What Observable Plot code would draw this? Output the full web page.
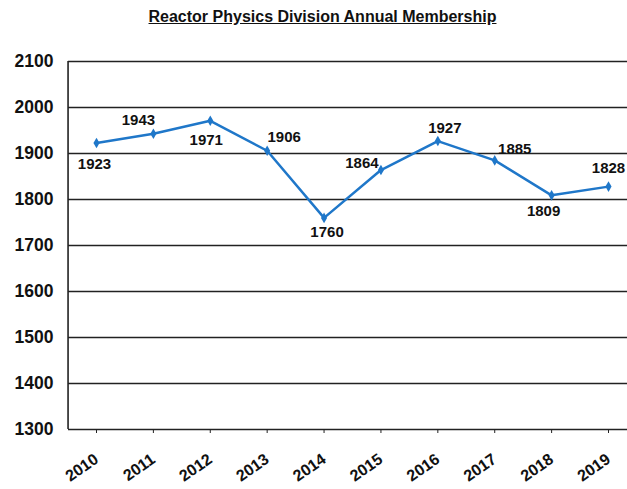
<!DOCTYPE html>
<html>
<head>
<meta charset="utf-8">
<script src="https://cdn.jsdelivr.net/npm/d3@7"></script>
<script src="https://cdn.jsdelivr.net/npm/@observablehq/plot@0.6"></script>
<style>
  html, body { margin: 0; padding: 0; background: #fff; }
  body { width: 627px; height: 489px; overflow: hidden; font-family: "Liberation Sans", Arial, sans-serif; }
  #title { height: 32px; line-height: 34px; text-align: center; font-weight: bold; font-size: 16px; text-decoration: underline; color: #111; padding-left: 18px; box-sizing: border-box; }
  svg { display: block; }
</style>
</head>
<body>
<div id="title">Reactor Physics Division Annual Membership</div>
<div id="chart"></div>
<script>
const years = [2010, 2011, 2012, 2013, 2014, 2015, 2016, 2017, 2018, 2019];
const members = [1923, 1943, 1971, 1906, 1760, 1864, 1927, 1885, 1809, 1828];
const yTicks = [1300, 1400, 1500, 1600, 1700, 1800, 1900, 2000, 2100];
const labelPlacement = ["below", "aboveLeft", "belowLeft", "aboveRight", "belowLow", "left", "aboveRight2", "right", "belowLeft2", "above"];

const offsets = {
  below: [-2, 21], belowLow: [3, 14], aboveLeft: [-15, -14], belowLeft: [-4, 19], aboveRight: [17, -14],
  left: [-19, -7], aboveRight2: [7, -13], right: [20, -11], belowLeft2: [-8, 16], above: [0, -18]
};

const data = years.map((y, i) => ({year: y, value: members[i], place: labelPlacement[i]}));

const labelMarks = data.map(d => Plot.text([d], {
  x: "year", y: "value", text: d => String(d.value),
  dx: offsets[d.place][0], dy: offsets[d.place][1],
  fontSize: 15, fontWeight: "bold", fill: "#111"
}));

const chart = Plot.plot({
  width: 627,
  height: 457,
  marginTop: 29,
  marginBottom: 60,
  marginLeft: 68,
  marginRight: 0,
  style: {fontFamily: "Liberation Sans, Arial, sans-serif", background: "#fff"},
  x: {type: "linear", domain: [2010, 2019], range: [96, 608]},
  y: {domain: [1300, 2100]},
  marks: [
    Plot.gridY(yTicks.slice(1), {stroke: "#222", strokeOpacity: 1, strokeWidth: 1.6}),
    Plot.ruleY([1300], {stroke: "#222", strokeWidth: 1.6}),
    Plot.ruleX([2009.5], {stroke: "#222", strokeWidth: 1.6}),
    Plot.axisY({ticks: yTicks, tickFormat: "d", tickSize: 0, tickPadding: 15, fontSize: 17.5, fontWeight: "bold", label: null, fill: "#111"}),
    Plot.axisX({ticks: years, tickFormat: "d", tickSize: 4, tickPadding: 24, tickRotate: -35, fontSize: 16, fontWeight: "bold", label: null, stroke: "#222", fill: "#111"}),
    Plot.line(data, {x: "year", y: "value", stroke: "#1f77c9", strokeWidth: 2.5}),
    Plot.dot(data, {x: "year", y: "value", symbol: "diamond", r: 3.2, fill: "#1f77c9", stroke: "none"}),
    ...labelMarks
  ]
});
document.getElementById("chart").appendChild(chart);
</script>
</body>
</html>
